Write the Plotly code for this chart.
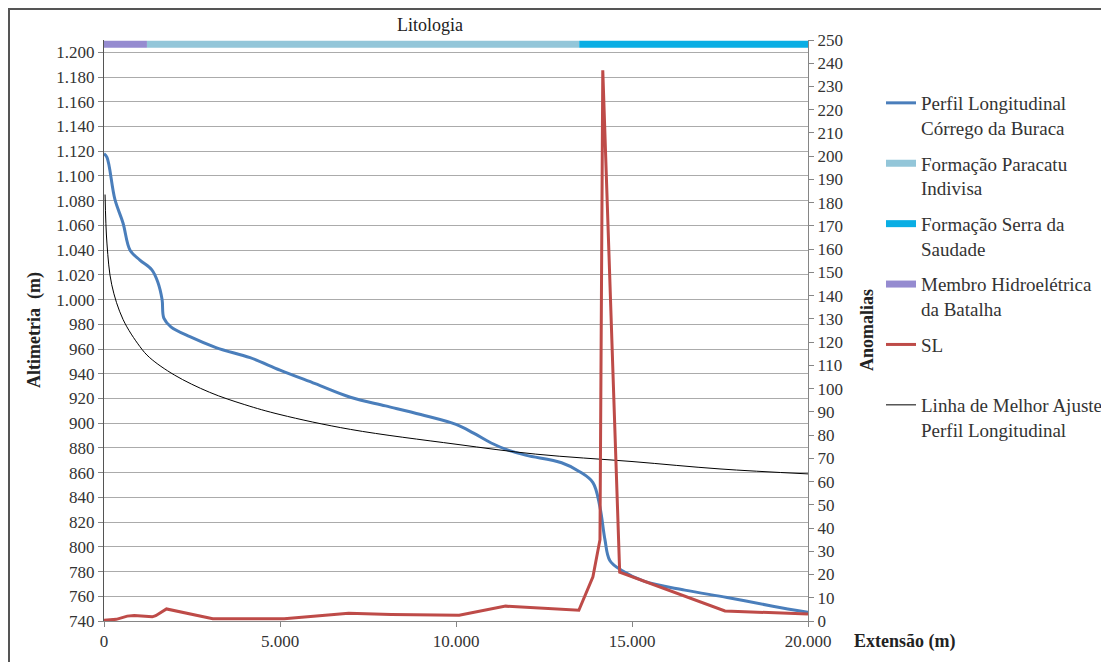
import plotly.graph_objects as go

# ---------------- data ----------------
perfil_x = [0, 85, 310, 540, 740, 1020, 1360, 1530, 1650, 1700, 1900, 2440, 3200, 4150,
            5000, 6000, 7000, 8000, 9000, 10000, 10500, 11000, 11500, 12000, 13000, 13500,
            13890, 14090, 14230, 14370, 14700, 15357, 16500, 17704, 19000, 20000]
perfil_y = [1118, 1115, 1081, 1062, 1040, 1032, 1024, 1014, 1000, 985, 978, 970, 961, 953,
            943, 932, 921, 914, 907, 899, 892, 884, 878, 874, 868, 861,
            852, 832, 806, 789, 781, 772, 765, 759, 752, 747]

sl_x = [0, 350, 660, 860, 1370, 1470, 1775, 3090, 5120, 6950, 8160, 10090, 11410, 12830,
        13490, 13890, 14090, 14170, 14650, 17640, 20000]
sl_y = [0.3, 0.7, 2.1, 2.4, 1.8, 2.3, 5.2, 1.0, 1.0, 3.3, 2.8, 2.5, 6.4, 5.2,
        4.6, 19, 35, 237, 21, 4.3, 3.0]

ajuste_x = [30, 85, 220, 540, 1020, 1300, 2000, 3000, 4000, 5000, 7000, 10000, 12264,
            15000, 17500, 20000]
ajuste_y = [1085, 1045, 1012, 984, 962, 953, 939, 925, 915, 907, 895, 883, 875,
            869, 863, 859]

membro_x = [0, 1220]
paracatu_x = [1220, 13500]
serra_x = [13500, 20000]
litologia_y = 1206.5

left_tickvals = list(range(740, 1201, 20))
left_ticktext = ["740", "760", "780", "800", "820", "840", "860", "880", "900", "920",
                 "940", "960", "980", "1.000", "1.020", "1.040", "1.060", "1.080",
                 "1.100", "1.120", "1.140", "1.160", "1.180", "1.200"]
x_tickvals = [0, 5000, 10000, 15000, 20000]
x_ticktext = ["0", "5.000", "10.000", "15.000", "20.000"]
right_tickvals = list(range(0, 251, 10))

# ---------------- figure ----------------
FONT = "Liberation Serif, Times New Roman, DejaVu Serif, serif"
fig = go.Figure()

fig.add_trace(go.Scatter(x=perfil_x, y=perfil_y, mode="lines", line_shape="spline",
                         line=dict(color="#4a7ebb", width=3),
                         name="Perfil Longitudinal<br>Córrego da Buraca", legendgroup="a"))
fig.add_trace(go.Scatter(x=paracatu_x, y=[litologia_y] * 2, mode="lines",
                         line=dict(color="#93c6d9", width=7),
                         name="Formação Paracatu<br>Indivisa", legendgroup="b"))
fig.add_trace(go.Scatter(x=serra_x, y=[litologia_y] * 2, mode="lines",
                         line=dict(color="#0aaee4", width=7),
                         name="Formação Serra da<br>Saudade", legendgroup="c"))
fig.add_trace(go.Scatter(x=membro_x, y=[litologia_y] * 2, mode="lines",
                         line=dict(color="#958bd0", width=7),
                         name="Membro Hidroelétrica<br>da Batalha", legendgroup="d"))
fig.add_trace(go.Scatter(x=sl_x, y=sl_y, mode="lines", yaxis="y2",
                         line=dict(color="#be4b48", width=3),
                         name="SL<br>\u00a0", legendgroup="e"))
fig.add_trace(go.Scatter(x=ajuste_x, y=ajuste_y, mode="lines", line_shape="spline",
                         line=dict(color="#000000", width=1),
                         name="Linha de Melhor Ajuste<br>Perfil Longitudinal", legendgroup="f"))

# page body has an 8px margin: figure is placed at (8, 8) in the window
W, H = 1101, 654
PL, PR, PT, PB = 104 - 8, 808 - 8, 40 - 8, 621 - 8


def px(sx):
    return (sx - 104) / 704


def py(sy):
    return (621 - sy) / 581


axis_line = "#868686"
tick_font = dict(family=FONT, size=17, color="#333")
fig.update_layout(
    width=W, height=H,
    margin=dict(l=PL, r=W - PR, t=PT, b=H - PB, autoexpand=False),
    paper_bgcolor="white", plot_bgcolor="white",
    font=dict(family=FONT, size=17, color="#222"),
    xaxis=dict(range=[0, 20000], tickvals=x_tickvals, ticktext=x_ticktext,
               showgrid=False, zeroline=False, showline=True, linecolor=axis_line,
               linewidth=1, ticks="outside", ticklen=5, tickcolor=axis_line,
               tickfont=tick_font),
    yaxis=dict(range=[740, 1210], tickvals=left_tickvals, ticktext=left_ticktext,
               showgrid=True, gridcolor="#ababab", gridwidth=1, zeroline=False,
               showline=True, linecolor="#555", linewidth=1, ticks="outside",
               ticklen=5, tickcolor=axis_line, tickfont=tick_font),
    yaxis2=dict(range=[0, 250], tickvals=right_tickvals, overlaying="y", side="right",
                showgrid=False, zeroline=False, showline=True, linecolor=axis_line,
                linewidth=1, ticks="outside", ticklen=5, tickcolor=axis_line,
                tickfont=tick_font),
    legend=dict(x=px(881), y=py(84), xanchor="left", yanchor="top", valign="top",
                font=dict(family=FONT, size=19, color="#333"),
                tracegroupgap=8, itemwidth=30, bgcolor="rgba(0,0,0,0)"),
    showlegend=True,
)


def label(text, sx, sy, angle=0, size=18):
    fig.add_annotation(text=text, xref="paper", yref="paper", x=px(sx), y=py(sy),
                       xanchor="center", yanchor="middle", textangle=angle,
                       showarrow=False, font=dict(family=FONT, size=size, color="#222"))


label("Litologia", 430, 25)
label("<b>Altimetria  (m)</b>", 34, 330, angle=-90)
label("<b>Anomalias</b>", 867, 330, angle=-90)
label("<b>Extensão (m)</b>", 905, 641)

# outer chart border
fig.add_shape(type="rect", xref="paper", yref="paper",
              x0=px(9), x1=px(1107), y0=py(668), y1=py(9),
              line=dict(color="#555", width=2), fillcolor="rgba(0,0,0,0)", layer="below")

fig.write_html("out.html")
